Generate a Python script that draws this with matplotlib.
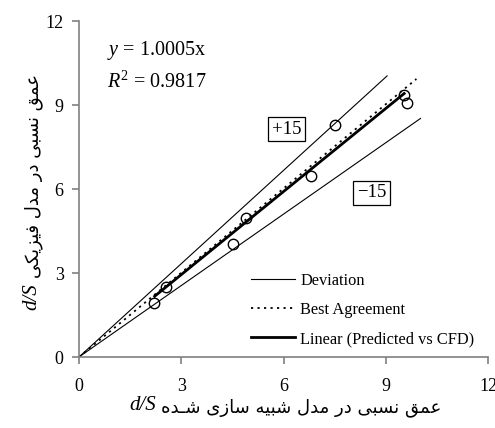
import matplotlib
matplotlib.use("Agg")
import matplotlib.pyplot as plt
import numpy as np

# ---------------- data ----------------
sim_x = [2.2, 2.55, 4.52, 4.9, 6.8, 7.5, 9.53, 9.61]
phys_y = [1.94, 2.51, 4.02, 4.95, 6.46, 8.28, 9.36, 9.08]

dev_up_x = [0, 9.04]
dev_up_y = [0, 10.04]
dev_lo_x = [0, 10.02]
dev_lo_y = [0, 8.52]
best_x = [0, 9.9]
best_y = [0, 9.93]
fit_x = [2.22, 9.54]
fit_y = [2.17, 9.41]

ticks = [0, 3, 6, 9, 12]
legend_labels = ["Deviation", "Best Agreement", "Linear (Predicted vs CFD)"]
eq_text = "$y$ = 1.0005x"
r2_text = "$R^2$ = 0.9817"
box_plus = "+15"
box_minus = "\u221215"
xlabel_fa = "عمق نسبی در مدل شبیه سازی شـده"
ylabel_fa = "عمق نسبی در مدل فیزیکی"
label_var = "d/S"

# ------------- minimal Persian shaping (presentation forms) -------------
FORMS = {
    'ا': ('\uFE8D', '\uFE8E', None, None),
    'ب': ('\uFE8F', '\uFE90', '\uFE91', '\uFE92'),
    'ت': ('\uFE95', '\uFE96', '\uFE97', '\uFE98'),
    'د': ('\uFEA9', '\uFEAA', None, None),
    'ر': ('\uFEAD', '\uFEAE', None, None),
    'ز': ('\uFEAF', '\uFEB0', None, None),
    'س': ('\uFEB1', '\uFEB2', '\uFEB3', '\uFEB4'),
    'ش': ('\uFEB5', '\uFEB6', '\uFEB7', '\uFEB8'),
    'ع': ('\uFEC9', '\uFECA', '\uFECB', '\uFECC'),
    'ف': ('\uFED1', '\uFED2', '\uFED3', '\uFED4'),
    'ق': ('\uFED5', '\uFED6', '\uFED7', '\uFED8'),
    'ل': ('\uFEDD', '\uFEDE', '\uFEDF', '\uFEE0'),
    'م': ('\uFEE1', '\uFEE2', '\uFEE3', '\uFEE4'),
    'ن': ('\uFEE5', '\uFEE6', '\uFEE7', '\uFEE8'),
    'ه': ('\uFEE9', '\uFEEA', '\uFEEB', '\uFEEC'),
    'ی': ('\uFBFC', '\uFBFD', '\uFBFE', '\uFBFF'),
    'ک': ('\uFB8E', '\uFB8F', '\uFB90', '\uFB91'),
    'ـ': ('ـ', 'ـ', 'ـ', 'ـ'),
}


def dual(c):
    return c in FORMS and FORMS[c][2] is not None


def shape_rtl(s):
    out = []
    for i, c in enumerate(s):
        if c not in FORMS:
            out.append(c)
            continue
        prev = s[i - 1] if i > 0 else ''
        nxt = s[i + 1] if i + 1 < len(s) else ''
        jp = dual(prev)
        jn = dual(c) and nxt in FORMS
        iso, fin, ini, med = FORMS[c]
        if jp and jn:
            out.append(med)
        elif jp:
            out.append(fin)
        elif jn:
            out.append(ini)
        else:
            out.append(iso)
    return ''.join(out)[::-1]


# ---------------- figure ----------------
plt.rcParams['font.family'] = ['Liberation Serif', 'DejaVu Sans']
plt.rcParams['mathtext.fontset'] = 'custom'
plt.rcParams['mathtext.rm'] = 'Liberation Serif'
plt.rcParams['mathtext.it'] = 'Liberation Serif:italic'

W, H = 495, 428
fig = plt.figure(figsize=(W / 100, H / 100), dpi=100)
ax = fig.add_axes([79 / W, 1 - 357 / H, (488 - 79) / W, (357 - 21) / H])

l1, = ax.plot(dev_up_x, dev_up_y, color='black', lw=0.8)
ax.plot(dev_lo_x, dev_lo_y, color='black', lw=0.8)
l2, = ax.plot(best_x, best_y, color='black', lw=1.3, linestyle=(0, (1.2, 2.4)))
l3, = ax.plot(fit_x, fit_y, color='black', lw=2.0)
ax.plot(sim_x, phys_y, linestyle='none', marker='o', markersize=7.5,
        markerfacecolor='none', markeredgecolor='black', markeredgewidth=1.0)

ax.set_xlim(0, 12)
ax.set_ylim(0, 12)
ax.set_xticks(ticks)
ax.set_yticks(ticks)
ax.set_xticklabels([str(t) for t in ticks])
ax.set_yticklabels([str(t) for t in ticks])
for side in ['top', 'right']:
    ax.spines[side].set_visible(False)
for side in ['left', 'bottom']:
    ax.spines[side].set_color('#808080')
    ax.spines[side].set_linewidth(1.2)
ax.tick_params(direction='out', length=5, width=1.2, color='#808080',
               labelsize=13, labelcolor='black')
ax.tick_params(axis='x', pad=10)
ax.tick_params(axis='y', pad=6)

ax.text(107 / W, 1 - 55 / H, eq_text, transform=fig.transFigure, fontsize=14.5,
        ha='left', va='baseline')
ax.text(107 / W, 1 - 88 / H, r2_text, transform=fig.transFigure, fontsize=14.5,
        ha='left', va='baseline')

bbox = dict(boxstyle='square,pad=0.2', facecolor='white', edgecolor='black', lw=0.9)
ax.text(6.1, 8.14, box_plus, fontsize=13.5, ha='center', va='center', bbox=bbox)
ax.text(8.58, 5.86, box_minus, fontsize=13.5, ha='center', va='center', bbox=bbox)

ax.legend([l1, l2, l3], legend_labels, loc='lower right', frameon=False,
          fontsize=11.8, handlelength=2.65, handletextpad=0.35, labelspacing=0.8,
          bbox_to_anchor=(0.983, 0.01), borderaxespad=0.0)

# ---------------- axis labels (Persian + italic d/S) ----------------
renderer = fig.canvas.get_renderer()
fa_font = 'DejaVu Sans'

tx = fig.text(301 / W, 1 - 408 / H, shape_rtl(xlabel_fa), family=fa_font,
              fontsize=13, ha='center', va='center')
ext = tx.get_window_extent(renderer)
fig.text((ext.x0 - 5) / W, 1 - 406 / H, label_var, fontsize=15, style='italic',
         ha='right', va='center', family='Liberation Serif')

ty = fig.text(34 / W, 1 - 176 / H, shape_rtl(ylabel_fa), family=fa_font,
              fontsize=13, rotation=90, ha='center', va='center')
ext = ty.get_window_extent(renderer)
fig.text(32 / W, (ext.y0 - 5) / H, label_var, fontsize=15, style='italic',
         rotation=90, ha='center', va='top', family='Liberation Serif')

fig.savefig('out.png', dpi=100)
